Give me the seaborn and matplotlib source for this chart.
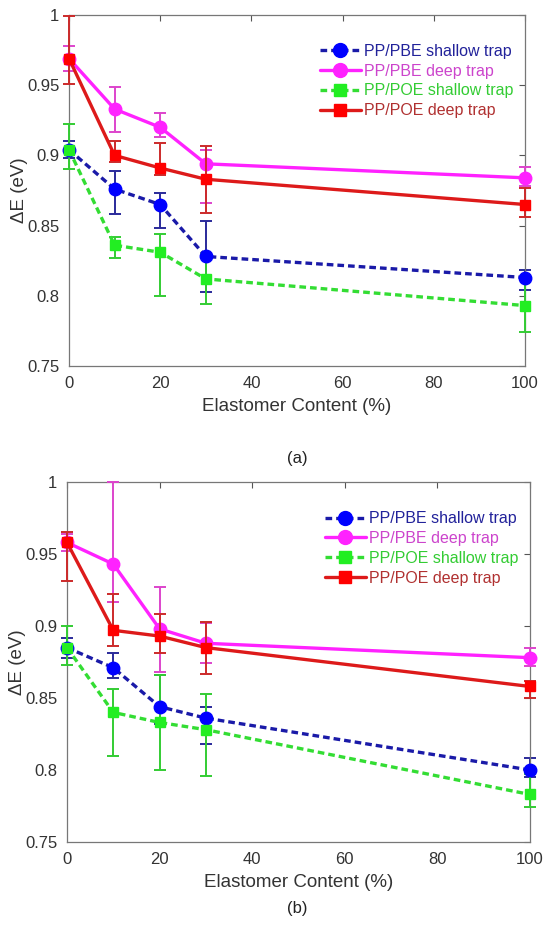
import numpy as np
import pandas as pd
import matplotlib
matplotlib.use("Agg")
import matplotlib.pyplot as plt
import seaborn as sns
from matplotlib.lines import Line2D

# ---------------- data ----------------
content = [0, 10, 20, 30, 100]
series_names = ["PP/PBE shallow trap", "PP/PBE deep trap", "PP/POE shallow trap", "PP/POE deep trap"]

# panel (a)
a_pbe_shallow = [0.904, 0.876, 0.865, 0.828, 0.813]
a_pbe_shallow_lo = [0.898, 0.858, 0.848, 0.803, 0.804]
a_pbe_shallow_hi = [0.910, 0.889, 0.873, 0.853, 0.818]
a_pbe_deep = [0.969, 0.933, 0.920, 0.894, 0.884]
a_pbe_deep_lo = [0.960, 0.917, 0.913, 0.866, 0.878]
a_pbe_deep_hi = [0.978, 0.949, 0.930, 0.904, 0.892]
a_poe_shallow = [0.904, 0.836, 0.831, 0.812, 0.793]
a_poe_shallow_lo = [0.890, 0.827, 0.800, 0.794, 0.774]
a_poe_shallow_hi = [0.922, 0.842, 0.844, 0.830, 0.811]
a_poe_deep = [0.969, 0.900, 0.891, 0.883, 0.865]
a_poe_deep_lo = [0.951, 0.895, 0.886, 0.859, 0.856]
a_poe_deep_hi = [0.999, 0.910, 0.909, 0.907, 0.877]

# panel (b)
b_pbe_shallow = [0.885, 0.871, 0.844, 0.836, 0.800]
b_pbe_shallow_lo = [0.878, 0.864, 0.832, 0.818, 0.795]
b_pbe_shallow_hi = [0.892, 0.881, 0.866, 0.844, 0.808]
b_pbe_deep = [0.958, 0.943, 0.898, 0.888, 0.878]
b_pbe_deep_lo = [0.952, 0.917, 0.868, 0.874, 0.872]
b_pbe_deep_hi = [0.964, 1.000, 0.927, 0.902, 0.885]
b_poe_shallow = [0.885, 0.840, 0.833, 0.828, 0.783]
b_poe_shallow_lo = [0.873, 0.810, 0.800, 0.796, 0.774]
b_poe_shallow_hi = [0.900, 0.856, 0.866, 0.853, 0.797]
b_poe_deep = [0.958, 0.897, 0.893, 0.885, 0.858]
b_poe_deep_lo = [0.931, 0.886, 0.881, 0.867, 0.850]
b_poe_deep_hi = [0.965, 0.922, 0.908, 0.903, 0.862]

x_ticks = [0, 20, 40, 60, 80, 100]
y_ticks = [0.75, 0.8, 0.85, 0.9, 0.95, 1.0]
y_tick_labels = ["0.75", "0.8", "0.85", "0.9", "0.95", "1"]
x_label = "Elastomer Content (%)"
y_label = "ΔE (eV)"
panel_labels = ["(a)", "(b)"]

# ---------------- styles ----------------
sns.set_style("white")
plt.rcParams["font.family"] = ["Liberation Sans", "DejaVu Sans"]

styles = [
    dict(line="#1a1aa8", marker="#0000ff", err="#2a2a9a", ls=(0, (2.0, 1.2)), mk="o", ms=9, txt="#22229a"),
    dict(line="#ff22ff", marker="#ff22ff", err="#dd44cc", ls="-", mk="o", ms=9, txt="#cc44cc"),
    dict(line="#33dd33", marker="#22ee22", err="#33cc33", ls=(0, (2.0, 1.2)), mk="s", ms=7, txt="#33cc33"),
    dict(line="#dd1a1a", marker="#ff0000", err="#cc2a2a", ls="-", mk="s", ms=7, txt="#b03030"),
]
grey = "#555555"

fig = plt.figure(figsize=(5.45, 9.26), dpi=100)
ax_a = fig.add_axes([0.1266, 0.6048, 0.8367, 0.3790])
ax_b = fig.add_axes([0.1229, 0.0907, 0.8496, 0.3888])

panels = [
    (ax_a, [(a_pbe_shallow, a_pbe_shallow_lo, a_pbe_shallow_hi),
            (a_pbe_deep, a_pbe_deep_lo, a_pbe_deep_hi),
            (a_poe_shallow, a_poe_shallow_lo, a_poe_shallow_hi),
            (a_poe_deep, a_poe_deep_lo, a_poe_deep_hi)]),
    (ax_b, [(b_pbe_shallow, b_pbe_shallow_lo, b_pbe_shallow_hi),
            (b_pbe_deep, b_pbe_deep_lo, b_pbe_deep_hi),
            (b_poe_shallow, b_poe_shallow_lo, b_poe_shallow_hi),
            (b_poe_deep, b_poe_deep_lo, b_poe_deep_hi)]),
]

for idx, (ax, data) in enumerate(panels):
    order = [2, 0, 1, 3]  # draw order
    for i in order:
        y, lo, hi = data[i]
        st = styles[i]
        y = np.array(y); lo = np.array(lo); hi = np.array(hi)
        ax.errorbar(content, y, yerr=[y - lo, hi - y], fmt="none", ecolor=st["err"],
                    elinewidth=1.4, capsize=4.5, capthick=1.4, clip_on=False, zorder=2 + i)
        df = pd.DataFrame({"x": content, "y": y})
        sns.lineplot(data=df, x="x", y="y", ax=ax, color=st["line"], linewidth=2.4,
                     linestyle=st["ls"], marker=None, zorder=3 + i, legend=False)
        ax.plot(content, y, linestyle="none", marker=st["mk"], markersize=st["ms"],
                markerfacecolor=st["marker"], markeredgecolor=st["marker"], clip_on=False, zorder=4 + i)

    ax.set_xlim(0, 100)
    ax.set_ylim(0.75, 1.0)
    ax.set_xticks(x_ticks)
    ax.set_xticklabels([str(t) for t in x_ticks])
    ax.set_yticks(y_ticks)
    ax.set_yticklabels(y_tick_labels)
    ax.tick_params(direction="in", length=4, width=0.8, colors=grey, labelcolor="#333333",
                   labelsize=12, top=True, right=True, pad=7)
    for sp in ax.spines.values():
        sp.set_color("#777777")
        sp.set_linewidth(0.9)
    ax.set_xlabel(x_label, fontsize=13.5, color="#333333", labelpad=5)
    ax.set_ylabel(y_label, fontsize=13.5, color="#333333", labelpad=-1)

    handles = []
    for i in range(4):
        st = styles[i]
        handles.append(Line2D([0], [0], color=st["line"], linewidth=2.4, linestyle=st["ls"],
                              marker=st["mk"], markersize=st["ms"] + 1,
                              markerfacecolor=st["marker"], markeredgecolor=st["marker"]))
    leg = ax.legend(handles, series_names, loc="upper right", bbox_to_anchor=(1.0, 0.95),
                    frameon=False, fontsize=11.5, handlelength=2.6, handletextpad=0.2,
                    labelspacing=0.3, borderaxespad=0.3)
    for t, st in zip(leg.get_texts(), styles):
        t.set_color(st["txt"])

fig.text(0.545, 1 - 459 / 926, panel_labels[0], ha="center", va="center", fontsize=12, color="#222222")
fig.text(0.545, 1 - 909 / 926, panel_labels[1], ha="center", va="center", fontsize=12, color="#222222")

fig.savefig("out.png", dpi=100)
